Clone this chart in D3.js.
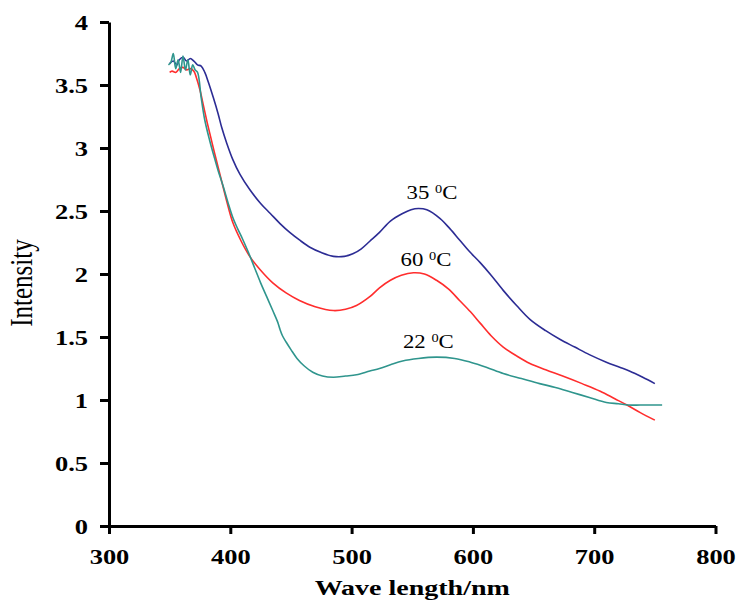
<!DOCTYPE html>
<html>
<head>
<meta charset="utf-8">
<script src="https://cdn.jsdelivr.net/npm/d3@7"></script>
<style>
  html, body { margin: 0; padding: 0; background: #fff; }
  svg { display: block; }
  text { font-family: "Liberation Serif", "Times New Roman", serif; fill: #000; }
</style>
</head>
<body>
<div id="chart"></div>
<script>
// axis ticks
const xTicks = [300, 400, 500, 600, 700, 800];
const yTicks = [0, 0.5, 1, 1.5, 2, 2.5, 3, 3.5, 4];

// 35 oC
const wave35 = [350, 353, 356, 358, 361, 364, 367, 370, 373, 376, 379, 382, 386, 390, 393, 397, 402, 408, 416, 425, 433, 441, 449, 457, 466, 475, 485, 494, 501, 508, 515, 523, 532, 542, 549, 555, 562, 573, 581, 589, 597, 606, 615, 625, 636, 647, 660, 672, 684, 696, 710, 721, 729, 740, 750];
const int35 = [3.67, 3.69, 3.66, 3.70, 3.72, 3.69, 3.71, 3.69, 3.66, 3.65, 3.60, 3.52, 3.40, 3.27, 3.16, 3.04, 2.91, 2.79, 2.67, 2.56, 2.48, 2.40, 2.33, 2.27, 2.21, 2.17, 2.14, 2.14, 2.16, 2.20, 2.26, 2.33, 2.42, 2.48, 2.51, 2.52, 2.51, 2.44, 2.36, 2.27, 2.18, 2.09, 1.99, 1.87, 1.75, 1.64, 1.55, 1.48, 1.42, 1.36, 1.30, 1.26, 1.23, 1.18, 1.13];

// 60 oC
const wave60 = [350, 352, 355, 358, 361, 364, 367, 370, 372, 375, 378, 381, 384, 387, 392, 397, 402, 409, 416, 425, 435, 446, 457, 470, 485, 495, 504, 515, 523, 532, 541, 551, 560, 570, 580, 589, 598, 606, 615, 625, 636, 647, 660, 674, 690, 705, 717, 727, 738, 750];
const int60 = [3.60, 3.61, 3.60, 3.63, 3.64, 3.62, 3.63, 3.61, 3.56, 3.46, 3.33, 3.20, 3.08, 2.96, 2.77, 2.58, 2.41, 2.26, 2.14, 2.03, 1.93, 1.85, 1.79, 1.74, 1.71, 1.72, 1.75, 1.82, 1.89, 1.95, 1.99, 2.01, 2.00, 1.95, 1.88, 1.79, 1.70, 1.61, 1.51, 1.42, 1.35, 1.29, 1.24, 1.19, 1.13, 1.07, 1.01, 0.96, 0.90, 0.84];

// 22 oC
const wave22 = [349, 351, 353, 355, 357, 359, 361, 363, 365, 367, 369, 371, 373, 376, 379, 383, 387, 390, 394, 398, 402, 406, 410, 415, 420, 425, 430, 435, 439, 441, 443, 446, 450, 455, 461, 468, 476, 485, 495, 504, 515, 523, 532, 542, 555, 570, 585, 598, 611, 625, 640, 655, 668, 682, 696, 710, 720, 728, 738, 748, 756];
const int22 = [3.66, 3.68, 3.75, 3.63, 3.70, 3.60, 3.73, 3.62, 3.70, 3.58, 3.66, 3.62, 3.60, 3.40, 3.22, 3.06, 2.92, 2.82, 2.70, 2.57, 2.45, 2.36, 2.28, 2.17, 2.05, 1.93, 1.82, 1.71, 1.62, 1.56, 1.51, 1.46, 1.40, 1.33, 1.27, 1.22, 1.19, 1.18, 1.19, 1.20, 1.23, 1.25, 1.28, 1.31, 1.33, 1.34, 1.33, 1.30, 1.26, 1.21, 1.17, 1.13, 1.10, 1.06, 1.02, 0.98, 0.97, 0.96, 0.96, 0.96, 0.96];

const seriesNames = ['35', '60', '22'];

const width = 737, height = 603;
const margin = { top: 22, right: 21.5, bottom: 77, left: 109 };
const stretch = 1.26; // text in the picture is wider than normal

const svg = d3.select('#chart').append('svg')
  .attr('width', width)
  .attr('height', height);

svg.append('rect').attr('width', width).attr('height', height).attr('fill', '#fff');

const x = d3.scaleLinear().domain([300, 800]).range([margin.left, width - margin.right]);
const y = d3.scaleLinear().domain([0, 4]).range([height - margin.bottom, margin.top]);

// lines
const series = [
  { name: seriesNames[0], wave: wave35, val: int35, color: '#2c2c94', lx: 545.3, ly: 2.595 },
  { name: seriesNames[1], wave: wave60, val: int60, color: '#ff2d2d', lx: 540.4, ly: 2.066 },
  { name: seriesNames[2], wave: wave22, val: int22, color: '#2f958d', lx: 542.3, ly: 1.413 }
];

const line = d3.line()
  .x(d => x(d[0]))
  .y(d => y(d[1]))
  .curve(d3.curveCatmullRom.alpha(0.5));

series.forEach(s => {
  const pts = s.wave.map((w, i) => [w, s.val[i]]);
  svg.append('path')
    .datum(pts)
    .attr('fill', 'none')
    .attr('stroke', s.color)
    .attr('stroke-width', 1.6)
    .attr('stroke-linejoin', 'round')
    .attr('d', line);
});

// x axis
const gx = svg.append('g')
  .attr('transform', `translate(0,${y(0)})`)
  .call(d3.axisBottom(x).tickValues(xTicks).tickSize(8).tickSizeOuter(0).tickFormat(d3.format('d')));
gx.select('.domain').attr('stroke-width', 3);
gx.selectAll('.tick line').attr('stroke-width', 3);
gx.selectAll('.tick text')
  .attr('y', 38).attr('dy', 0)
  .attr('transform', `scale(${stretch},1)`)
  .style('font-size', '21px').style('font-weight', 'bold');

// y axis
const gy = svg.append('g')
  .attr('transform', `translate(${x(300)},0)`)
  .call(d3.axisLeft(y).tickValues(yTicks).tickSize(9).tickSizeOuter(0).tickFormat(d => d));
gy.select('.domain').attr('stroke-width', 3);
gy.selectAll('.tick line').attr('stroke-width', 3);
gy.selectAll('.tick text')
  .attr('x', -21 / stretch).attr('dy', '0.35em')
  .attr('transform', `scale(${stretch},1)`)
  .style('font-size', '21px').style('font-weight', 'bold');

// axis titles
svg.append('text')
  .attr('transform', `translate(${(x(300) + x(800)) / 2},595) scale(1.4,1)`)
  .attr('text-anchor', 'middle')
  .style('font-size', '20px').style('font-weight', 'bold')
  .text('Wave length/nm');

svg.append('text')
  .attr('transform', `translate(32,283) scale(${stretch},1) rotate(-90)`)
  .attr('text-anchor', 'middle')
  .style('font-size', '25px')
  .text('Intensity');

// curve labels
series.forEach(s => {
  const t = svg.append('text')
    .attr('transform', `translate(${x(s.lx)},${y(s.ly)}) scale(1.2,1)`)
    .style('font-size', '19px');
  t.append('tspan').text(s.name + ' ');
  t.append('tspan').attr('dy', -6).style('font-size', '12px').text('0');
  t.append('tspan').attr('dy', 6).text('C');
});
</script>
</body>
</html>
